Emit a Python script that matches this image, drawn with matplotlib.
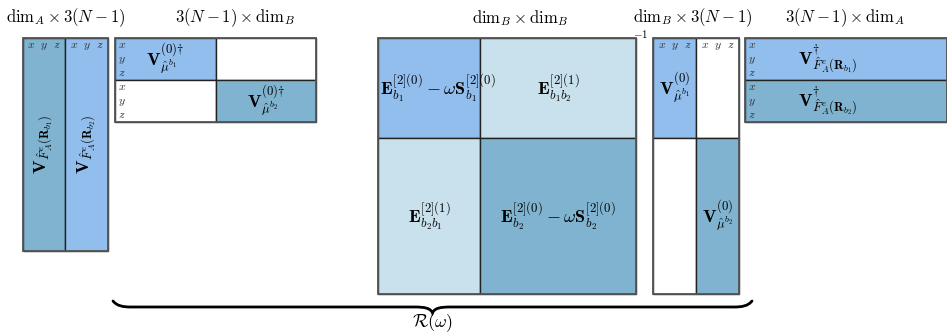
import matplotlib.pyplot as plt
from matplotlib.patches import Rectangle, PathPatch
from matplotlib.path import Path

plt.rcParams['mathtext.fontset'] = 'cm'

# colour codes for the blocks
TEAL = '#7fb3cf'
BLUE = '#92beee'
PALE = '#c9e1ec'
WHITE = '#ffffff'

# sizes of the blocks of each matrix (column widths, row heights)
col_widths = [[42, 43], [101, 100], [102, 156], [43, 43], [202]]
row_heights = [[213], [42, 42], [100, 156], [100, 156], [42, 42]]
block_colors = [
    [[TEAL, BLUE]],
    [[BLUE, WHITE], [WHITE, TEAL]],
    [[BLUE, PALE], [PALE, TEAL]],
    [[BLUE, WHITE], [WHITE, TEAL]],
    [[BLUE], [TEAL]],
]
matrix_left = [23, 115, 378, 653, 745]
matrix_top = 38

titles = [r'$\mathrm{dim}_A \times 3(N-1)$',
          r'$3(N-1) \times \mathrm{dim}_B$',
          r'$\mathrm{dim}_B \times \mathrm{dim}_B$',
          r'$\mathrm{dim}_B \times 3(N-1)$',
          r'$3(N-1) \times \mathrm{dim}_A$']
title_x = [66, 235, 520, 693, 845]

# block labels: (matrix, row, col, text, rotation, dx, dy)
block_labels = [
    (0, 0, 0, r'$\mathbf{V}_{\hat{F}^{e}_{A}(\mathbf{R}_{b_1})}$', 90, 0, 0),
    (0, 0, 1, r'$\mathbf{V}_{\hat{F}^{e}_{A}(\mathbf{R}_{b_2})}$', 90, 0, 0),
    (1, 0, 0, r'$\mathbf{V}^{(0)†}_{\hat{\mu}^{b_1}}$', 0, 0, 0),
    (1, 1, 1, r'$\mathbf{V}^{(0)†}_{\hat{\mu}^{b_2}}$', 0, 0, 0),
    (2, 0, 0, r'$\mathbf{E}^{[2](0)}_{b_1} - \omega\mathbf{S}^{[2](0)}_{b_1}$', 0, 9, 0),
    (2, 0, 1, r'$\mathbf{E}^{[2](1)}_{b_1 b_2}$', 0, 0, 0),
    (2, 1, 0, r'$\mathbf{E}^{[2](1)}_{b_2 b_1}$', 0, 0, 0),
    (2, 1, 1, r'$\mathbf{E}^{[2](0)}_{b_2} - \omega\mathbf{S}^{[2](0)}_{b_2}$', 0, 0, 0),
    (3, 0, 0, r'$\mathbf{V}^{(0)}_{\hat{\mu}^{b_1}}$', 0, 0, 0),
    (3, 1, 1, r'$\mathbf{V}^{(0)}_{\hat{\mu}^{b_2}}$', 0, 0, 0),
    (4, 0, 0, r'$\mathbf{V}^{†}_{\hat{F}^{e}_{A}(\mathbf{R}_{b_1})}$', 0, -18, 0),
    (4, 1, 0, r'$\mathbf{V}^{†}_{\hat{F}^{e}_{A}(\mathbf{R}_{b_2})}$', 0, -18, 0),
]
# which matrices carry x/y/z tags on columns or rows
xyz_columns = [0, 3]
xyz_rows = [1, 4]

fig = plt.figure(figsize=(9.47, 3.34), dpi=100)
ax = fig.add_axes([0, 0, 1, 1])
ax.set_xlim(0, 947)
ax.set_ylim(334, 0)
ax.axis('off')


def block_edges(sizes, start):
    edges = [start]
    for s in sizes:
        edges.append(edges[-1] + s)
    return edges


for m in range(len(matrix_left)):
    xs = block_edges(col_widths[m], matrix_left[m])
    ys = block_edges(row_heights[m], matrix_top)
    for r in range(len(row_heights[m])):
        for c in range(len(col_widths[m])):
            ax.add_patch(Rectangle((xs[c], ys[r]), xs[c + 1] - xs[c], ys[r + 1] - ys[r],
                                   facecolor=block_colors[m][r][c], edgecolor='#222222',
                                   linewidth=1.0))
    # outer frame in a softer grey
    ax.add_patch(Rectangle((xs[0], ys[0]), xs[-1] - xs[0], ys[-1] - ys[0],
                           facecolor='none', edgecolor='#555555', linewidth=1.3))
    ax.text(title_x[m], 18, titles[m], ha='center', va='center', fontsize=12)

    if m in xyz_columns:
        for c in range(len(col_widths[m])):
            xc = (xs[c] + xs[c + 1]) / 2
            ax.text(xc, 45, r'$x\ \ y\ \ z$', ha='center', va='center', fontsize=8.5,
                    color='#333333')
    if m in xyz_rows:
        for r in range(len(row_heights[m])):
            for k, lab in enumerate(['x', 'y', 'z']):
                ax.text(xs[0] + 7, ys[r] + 7 + k * 14, '$%s$' % lab, ha='center',
                        va='center', fontsize=8.5, color='#333333')

for m, r, c, lab, rot, dx, dy in block_labels:
    xs = block_edges(col_widths[m], matrix_left[m])
    ys = block_edges(row_heights[m], matrix_top)
    xc = (xs[c] + xs[c + 1]) / 2 + dx
    yc = (ys[r] + ys[r + 1]) / 2 + dy
    ax.text(xc, yc, lab, ha='center', va='center', fontsize=13, rotation=rot)

# inverse marker on the response matrix
ax.text(641, 34, r'$-1$', ha='center', va='center', fontsize=8)

# curly brace under the product
bx0, bx1 = 113, 752
bm = (bx0 + bx1) / 2
ytop, ymid, ytip = 301, 307, 313
verts = [(bx0, ytop), (bx0 + 4, ymid - 1), (bx0 + 10, ymid), (bx0 + 18, ymid),
         (bm - 18, ymid), (bm - 8, ymid), (bm - 2, ymid + 1), (bm, ytip),
         (bm + 2, ymid + 1), (bm + 8, ymid), (bm + 18, ymid),
         (bx1 - 18, ymid), (bx1 - 10, ymid), (bx1 - 4, ymid - 1), (bx1, ytop)]
codes = [Path.MOVETO, Path.CURVE4, Path.CURVE4, Path.CURVE4,
         Path.LINETO, Path.CURVE4, Path.CURVE4, Path.CURVE4,
         Path.CURVE4, Path.CURVE4, Path.CURVE4,
         Path.LINETO, Path.CURVE4, Path.CURVE4, Path.CURVE4]
ax.add_patch(PathPatch(Path(verts, codes), facecolor='none', edgecolor='black',
                       linewidth=2.0, capstyle='round'))
ax.text(bm, 323, r'$\mathcal{R}(\omega)$', ha='center', va='center', fontsize=13)

fig.savefig('out.png', dpi=100)
